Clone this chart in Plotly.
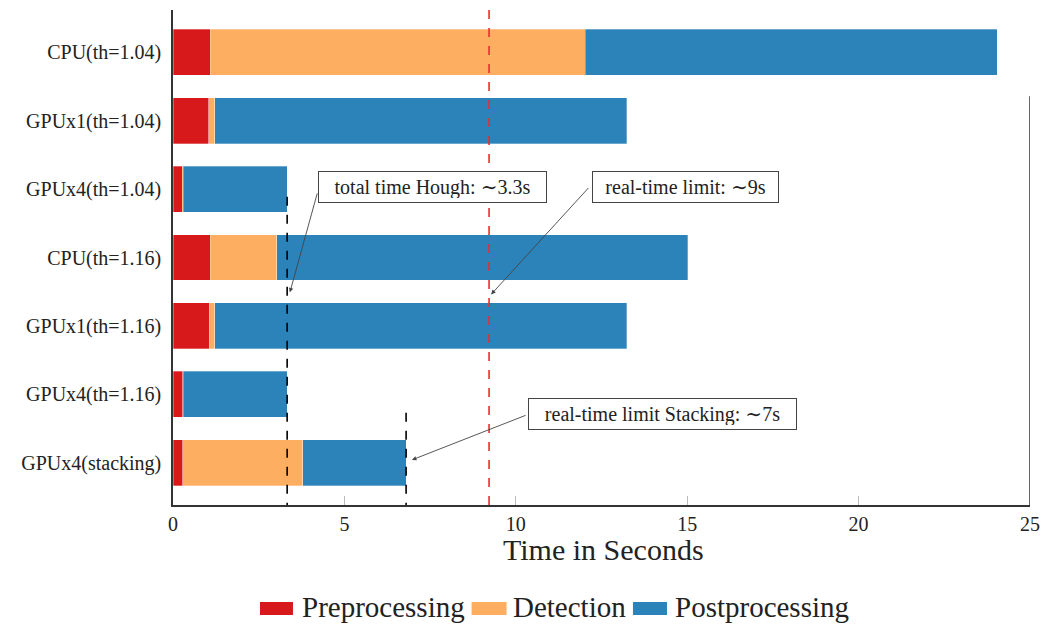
import plotly.graph_objects as go

# Run configurations (top to bottom)
configs = ["CPU(th=1.04)", "GPUx1(th=1.04)", "GPUx4(th=1.04)", "CPU(th=1.16)",
           "GPUx1(th=1.16)", "GPUx4(th=1.16)", "GPUx4(stacking)"]

# Stage timings in seconds
preprocessing = [1.08, 1.05, 0.27, 1.08, 1.06, 0.29, 0.29]
detection = [10.94, 0.17, 0.03, 1.95, 0.16, 0.01, 3.49]
postprocessing = [12.02, 12.02, 3.03, 11.99, 12.02, 3.03, 3.02]

# Reference markers
hough_total = 3.33
stacking_limit = 6.8
realtime_limit = 9.22

stages = ["Preprocessing", "Detection", "Postprocessing"]
serif = "Liberation Serif, DejaVu Serif, serif"
ink = "#222222"
colors = {"Preprocessing": "#d7191c", "Detection": "#fdae61", "Postprocessing": "#2b83ba"}

fig = go.Figure()
for name, vals in zip(stages, [preprocessing, detection, postprocessing]):
    fig.add_trace(go.Bar(
        y=configs, x=vals, name=name, orientation="h",
        marker=dict(color=colors[name], line=dict(color="rgba(255,255,255,0.5)", width=0.6)),
    ))

# Dashed reference lines
fig.add_shape(type="line", xref="x", yref="y domain", x0=realtime_limit, x1=realtime_limit,
              y0=0, y1=1, line=dict(color="#ee2a2a", width=1.6, dash="dash"))
fig.add_shape(type="line", xref="x", yref="y", x0=hough_total, x1=hough_total,
              y0=2.11, y1=6.62, line=dict(color="black", width=1.6, dash="dash"))
fig.add_shape(type="line", xref="x", yref="y", x0=stacking_limit, x1=stacking_limit,
              y0=5.27, y1=6.62, line=dict(color="black", width=1.6, dash="dash"))
# Right frame segment at x = 25
fig.add_shape(type="line", xref="x", yref="y", x0=25, x1=25, y0=0.64, y1=6.62,
              line=dict(color="#333333", width=1.5))

# Callout arrows
arrow = dict(text="", showarrow=True, arrowhead=2, arrowsize=1, arrowwidth=0.9,
             arrowcolor="#444444", xref="x", yref="y", axref="x", ayref="y")
fig.add_annotation(x=3.41, y=3.51, ax=4.22, ay=2.04, **arrow)
fig.add_annotation(x=9.28, y=3.54, ax=12.16, ay=1.96, **arrow)
fig.add_annotation(x=6.97, y=5.96, ax=10.33, ay=5.30, **arrow)

# Callout boxes
box = dict(font=dict(family=serif, size=20, color=ink), bordercolor="#444444",
           borderwidth=1, borderpad=4, bgcolor="white", showarrow=False,
           xref="x", yref="y", height=22, align="center", valign="middle")
fig.add_annotation(x=7.57, y=1.97, text="total time Hough: ∼3.3s", width=219, **box)
fig.add_annotation(x=14.95, y=1.97, text="real-time limit: ∼9s", width=177, **box)
fig.add_annotation(x=14.28, y=5.29, text="real-time limit Stacking: ∼7s", width=259, **box)

# Axis title
fig.add_annotation(x=0.5018, y=-0.0889, xref="paper", yref="paper", showarrow=False,
                   text="Time in Seconds", font=dict(family=serif, size=30, color=ink),
                   xanchor="center", yanchor="middle")

# Legend row with wide swatches
swatch_x = [(0.1015, 0.1400), (0.3484, 0.3892), (0.5367, 0.5764)]
label_x = [0.1482, 0.3945, 0.5834]
for name, (sx0, sx1), lx in zip(stages, swatch_x, label_x):
    fig.add_shape(type="rect", xref="paper", yref="paper", x0=sx0, x1=sx1,
                  y0=-0.222, y1=-0.196, fillcolor=colors[name], line=dict(width=0))
    fig.add_annotation(x=lx, y=-0.207, xref="paper", yref="paper", showarrow=False,
                       text=name, font=dict(family=serif, size=29, color=ink),
                       xanchor="left", yanchor="middle")

fig.update_layout(
    barmode="stack", bargap=0.33,
    width=1042, height=625,
    margin=dict(l=173, r=12, t=10, b=120),
    plot_bgcolor="white", paper_bgcolor="white",
    font=dict(family=serif, color=ink),
    showlegend=False,
    xaxis=dict(range=[0, 25], tickvals=[0, 5, 10, 15, 20, 25], showgrid=False,
               zeroline=False, showline=True, linecolor="#333333", linewidth=1.5,
               ticks="inside", ticklen=9, tickcolor="#bbbbbb", tickwidth=1,
               tickfont=dict(family=serif, size=20), automargin=False),
    yaxis=dict(categoryorder="array", categoryarray=configs, autorange=False,
               range=[6.62, -0.62], showgrid=False, zeroline=False, showline=True,
               linecolor="#333333", linewidth=1.5, ticks="",
               tickfont=dict(family=serif, size=20), ticklabelstandoff=6,
               automargin=False),
)

fig.write_html("out.html")
